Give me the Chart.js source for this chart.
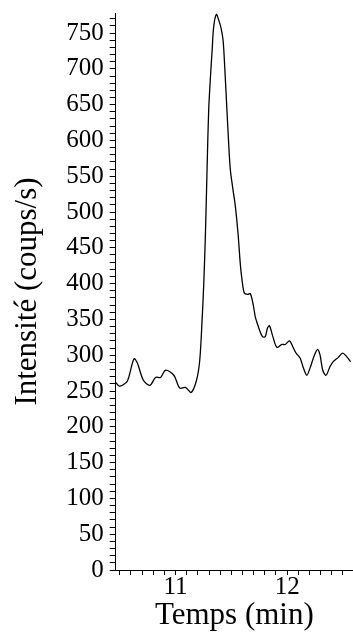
<!DOCTYPE html>
<html>
<head>
<meta charset="utf-8">
<script src="https://cdn.jsdelivr.net/npm/chart.js@4.4.1/dist/chart.umd.min.js"></script>
<style>
html,body{margin:0;padding:0;background:#fff;}
#wrap{width:353px;height:638px;position:relative;}
</style>
</head>
<body>
<div id="wrap"><canvas id="c" width="353" height="638"></canvas></div>
<script>
// Time (min)
const times = [10.464,10.494,10.524,10.569,10.628,10.658,10.712,10.771,10.821,10.866,10.911,10.985,11.038,11.089,11.140,11.188,11.217,11.238,11.253,11.268,11.283,11.297,11.313,11.328,11.342,11.366,11.387,11.408,11.426,11.440,11.462,11.476,11.491,11.515,11.536,11.560,11.580,11.596,11.616,11.646,11.670,11.694,11.714,11.723,11.753,11.779,11.804,11.824,11.842,11.872,11.908,11.953,11.982,12.021,12.056,12.080,12.116,12.146,12.176,12.205,12.244,12.273,12.295,12.319,12.348,12.384,12.413,12.458,12.497,12.533,12.569];
// Intensity (counts/s)
const intensity = [262,257,258,264,295,289,265,258,269,269,279,272,254,255,248,265,293,349,400,470,563,642,689,726,759,776,768,757,740,705,638,596,559,531,508,470,428,405,387,385,386,372,354,349,335,326,326,338,341,326,311,315,315,320,310,303,296,282,272,282,300,308,300,279,272,284,291,297,303,298,291];
// Axis ticks
const xTickValues = [10.5,10.6,10.7,10.8,10.9,11,11.1,11.2,11.3,11.4,11.5,11.6,11.7,11.8,11.9,12,12.1,12.2,12.3,12.4,12.5];
const xTickLabels = ['11','12'];
const yTickLabels = ['0','50','100','150','200','250','300','350','400','450','500','550','600','650','700','750'];
const yMinorStep = 10;
const xRange = [10.464, 12.59];
const yRange = [0, 778];

const points = times.map((t,i)=>({x:t, y:intensity[i]}));
const serif = "'Liberation Serif','Times New Roman',serif";

new Chart(document.getElementById('c'), {
  type: 'line',
  data: { datasets: [{
    data: points,
    borderColor: '#000',
    borderWidth: 1.3,
    pointRadius: 0,
    tension: 0.3,
    fill: false
  }]},
  options: {
    responsive: false,
    animation: false,
    events: [],
    layout: { padding: { left: 9, right: 0, top: 13, bottom: 7 } },
    plugins: { legend: { display: false }, tooltip: { enabled: false } },
    scales: {
      x: {
        type: 'linear',
        min: xRange[0], max: xRange[1],
        afterBuildTicks: (axis) => { axis.ticks = xTickValues.map(v => ({ value: v })); },
        ticks: {
          autoSkip: false,
          maxRotation: 0,
          padding: 0,
          color: '#000',
          font: { family: serif, size: 25, lineHeight: 1 },
          callback: (v) => {
            const s = String(Math.round(v));
            return (Math.abs(v - Math.round(v)) < 1e-6 && xTickLabels.includes(s)) ? s : '';
          }
        },
        grid: { drawOnChartArea: false, drawTicks: true, tickLength: 5, color: '#000', tickColor: '#000' },
        border: { display: true, color: '#000', width: 1 },
        title: { display: true, text: 'Temps (min)', color: '#000', font: { family: serif, size: 31, lineHeight: 1 }, padding: { top: 0, bottom: 0 } }
      },
      y: {
        type: 'linear',
        min: yRange[0], max: yRange[1],
        afterBuildTicks: (axis) => {
          const t = [];
          for (let v = 0; v <= 770; v += yMinorStep) t.push({ value: v });
          axis.ticks = t;
        },
        ticks: {
          autoSkip: false,
          padding: 6,
          color: '#000',
          font: { family: serif, size: 25, lineHeight: 0.5 },
          callback: (v) => { const s = String(v); return yTickLabels.includes(s) ? s : ''; }
        },
        grid: { drawOnChartArea: false, drawTicks: true, tickLength: 6, color: '#000', tickColor: '#000' },
        border: { display: true, color: '#000', width: 1 },
        title: { display: true, text: 'Intensité (coups/s)', color: '#000', font: { family: serif, size: 31, lineHeight: 1.2 }, padding: { top: 0, bottom: 14 } }
      }
    }
  }
});
</script>
</body>
</html>
